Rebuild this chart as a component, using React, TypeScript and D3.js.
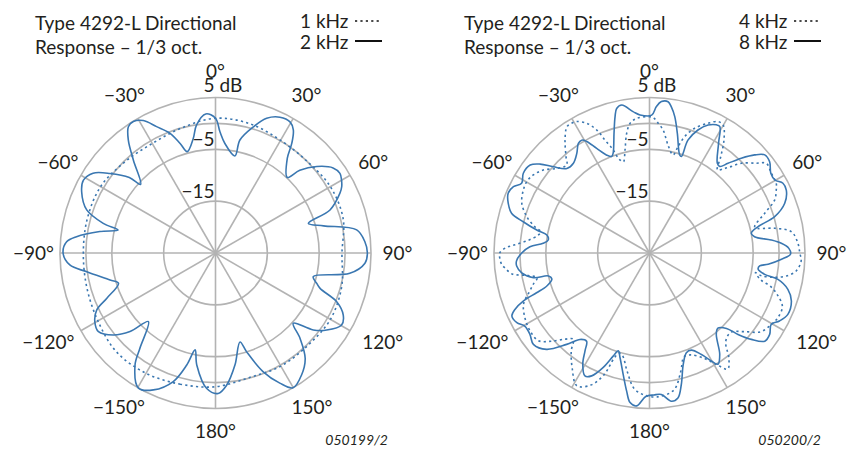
import * as React from "react";
import * as d3 from "d3";

// angle in degrees (clockwise from 0° on top), level in dB

// left plot, 1 kHz (dotted)
const ang1k = [-180, -165, -150, -135, -120, -105, -90, -75, -60, -45, -30, -15, 0, 15, 30, 45, 60, 75, 90, 105, 120, 135, 150, 165];
const db1k = [0.8, 1.2, 1.8, 2.0, 1.2, 0.7, 0.5, 0.6, 0.6, -0.2, -0.6, 0.0, 1.0, 0.8, 0.1, 0.0, 0.6, 0.5, -0.6, 0.2, 0.6, 0.2, 0.2, -0.1];

// left plot, 2 kHz (solid)
const ang2k = [
  -176.3, -170.5, -168.1, -165.6, -161.8, -155.6, -150.3, -144.3, -141.6, -135.6, -132.6, -128.7,
  -123.9, -119.7, -115.6, -112.6, -107.3, -104.4, -98.3, -94.7, -90.1, -85.7, -83.3, -79.5,
  -76.7, -75.2, -71.5, -65.4, -61.1, -56.9, -53.0, -48.8, -47.5, -41.5, -37.7, -34.6,
  -32.0, -28.6, -25.0, -20.8, -17.9, -15.6, -11.0, -8.4, -4.0, 0.0, 2.1, 4.9,
  11.3, 12.2, 16.7, 20.8, 25.4, 29.6, 32.3, 34.8, 37.2, 43.5, 45.5, 49.5,
  54.1, 57.4, 59.9, 62.3, 64.4, 69.4, 72.3, 75.9, 80.7, 85.7, 89.9, 93.9,
  98.6, 103.6, 106.7, 108.7, 111.9, 115.9, 119.7, 124.7, 128.2, 132.1, 135.3, 139.6,
  144.8, 150.1, 153.7, 158.1, 162.5, 164.6, 170.1, 175.2, 178.9,
];
const db2k = [
  1.2, -3.1, -5.9, -2.7, 1.1, 4.0, 5.0, 1.6, -1.5, -6.5, -2.6, 0.3,
  2.2, 1.8, 0.4, -2.3, -5.4, -4.0, 0.1, 3.2, 4.4, 3.8, 2.0, -2.3,
  -5.7, -2.6, 1.2, 3.4, 4.1, 3.2, 0.5, -2.9, -5.4, -1.1, 2.5, 4.6,
  4.9, 4.1, 1.9, -0.3, -2.8, -4.7, -2.5, 0.0, 1.9, 1.0, -1.6, -3.8,
  -5.9, -2.7, 0.4, 2.8, 4.0, 4.1, 3.1, 0.8, -2.1, -4.9, -2.2, 0.7,
  3.0, 3.5, 3.1, 2.5, 1.6, -1.4, -6.2, -3.5, 2.6, 3.9, 4.3, 3.9,
  1.2, -5.6, -4.6, -3.7, 0.2, 2.4, 3.0, 1.1, -1.0, -4.8, -1.8, 1.7,
  3.8, 5.0, 3.0, -0.3, -5.0, -7.2, -3.1, 0.6, 2.1,
];

// right plot, 4 kHz (dotted)
const ang4k = [
  -177.8, -173.5, -169.4, -165.1, -163.1, -161.4, -159.5, -156.0, -151.3, -146.2, -141.4, -138.5,
  -135.5, -131.9, -128.3, -123.0, -117.5, -112.0, -108.0, -105.0, -102.5, -100.5, -98.7, -96.0,
  -94.4, -92.0, -90.0, -88.0, -86.5, -84.0, -81.0, -79.0, -77.0, -73.5, -68.7, -63.5,
  -59.9, -56.1, -52.0, -47.6, -43.3, -40.9, -36.8, -33.2, -31.0, -29.0, -25.8, -23.2,
  -21.5, -19.4, -18.2, -16.0, -13.4, -10.8, -8.5, -5.4, 0.0, 2.0, 4.0, 6.3,
  9.7, 13.5, 15.0, 16.8, 19.9, 24.3, 27.5, 29.9, 33.4, 36.5, 39.3, 41.6,
  43.3, 45.7, 49.9, 52.5, 56.8, 61.2, 63.6, 67.1, 71.0, 76.3, 78.8, 81.5,
  86.3, 90.0, 93.0, 97.0, 99.5, 101.0, 101.5, 100.5, 103.6, 105.5, 108.2, 112.0,
  117.1, 120.7, 125.3, 129.8, 134.3, 139.3, 143.0, 146.0, 148.8, 152.6, 158.0, 161.6,
  165.3, 169.9, 176.9,
];
const db4k = [
  2.4, 1.3, -1.7, -4.6, -4.8, -3.6, 0.1, 2.9, 4.2, 1.8, -0.8, -2.8,
  -1.7, 0.5, 2.3, 2.5, 2.1, 1.2, -0.6, -1.8, -2.8, -1.2, 1.8, 3.0,
  3.6, 3.9, 3.9, 2.8, 1.0, -1.5, -3.2, -3.6, -2.2, -0.3, 1.45, 2.2,
  2.4, 2.0, 1.0, -0.8, -1.7, -0.4, 2.2, 4.1, 4.2, 4.0, 2.8, 0.8,
  -1.6, -3.9, -5.75, -6.7, -4.6, -1.5, 0.3, 1.1, 1.3, 1.0, 0.0, -1.1,
  -3.85, -5.55, -3.8, -1.55, 0.6, 2.45, 3.6, 3.5, 1.1, -1.9, -4.3, -3.2,
  -2.1, -0.2, 1.9, 3.4, 3.1, 2.9, 2.3, 1.2, -1.5, -4.1, -0.4, 2.7,
  3.7, 4.0, 4.3, 3.5, 1.8, -0.5, -3.0, -4.2, -2.9, -0.7, 1.0, 2.65,
  2.7, 2.2, 1.3, -1.3, -3.1, -2.45, 0.46, 2.0, 0.26, -2.1, -3.8, -3.9,
  -1.3, 1.85, 2.8,
];

// right plot, 8 kHz (solid)
const ang8k = [
  -178.5, -175.2, -172.6, -170.6, -167.8, -164.3, -162.3, -160.6, -158.0, -154.8, -152.3, -149.0,
  -146.6, -144.5, -141.2, -137.8, -133.1, -128.2, -124.2, -120.4, -117.7, -114.6, -112.7, -110.8,
  -109.4, -107.8, -105.0, -102.8, -102.0, -98.8, -95.6, -93.4, -90.1, -87.0, -84.8, -82.7,
  -80.1, -78.5, -76.1, -73.9, -70.6, -67.1, -64.0, -61.4, -57.7, -53.6, -50.9, -48.1,
  -44.4, -40.3, -36.1, -33.0, -31.0, -29.4, -26.8, -23.6, -21.4, -20.0, -16.5, -14.2,
  -12.8, -10.6, -6.5, -3.9, 0.9, 2.7, 4.5, 7.0, 8.5, 10.5, 13.1, 17.1,
  18.3, 18.8, 21.5, 24.6, 27.6, 29.1, 32.2, 37.1, 39.1, 41.2, 44.1, 47.0,
  49.6, 52.8, 56.7, 59.8, 62.4, 65.3, 69.8, 73.8, 76.4, 79.0, 81.2, 83.9,
  85.8, 88.1, 90.5, 92.7, 95.4, 96.7, 98.5, 100.5, 101.6, 104.7, 108.7, 113.9,
  117.6, 120.3, 124.1, 127.4, 130.3, 132.6, 134.4, 137.7, 140.6, 145.3, 148.4, 150.2,
  152.9, 156.7, 159.7, 163.2, 166.4, 168.9, 171.6, 175.2, 178.2,
];
const db8k = [
  2.7, 4.6, 4.1, 2.0, -1.0, -4.0, -5.2, -3.9, -1.2, 1.2, 1.8, 0.0,
  -2.4, -4.1, -3.6, -1.2, 2.2, 3.5, 2.9, 2.9, 3.9, 4.2, 3.1, 1.0,
  -1.9, -4.2, -5.5, -5.0, -2.1, -0.05, 0.75, 0.7, -0.3, -1.9, -4.4, -5.3,
  -4.9, -2.8, 0.1, 2.7, 3.9, 4.6, 4.2, 3.1, 3.8, 3.6, 2.2, -0.1,
  -2.2, -2.3, -1.2, 0.2, 0.4, -0.3, -2.4, -4.4, -5.0, -4.5, -0.9, 2.1,
  3.6, 4.05, 2.4, 1.7, 1.6, 3.3, 4.3, 4.4, 3.5, 1.75, -1.3, -5.2,
  -5.4, -2.0, 0.5, 2.15, 2.9, 2.9, 0.0, -3.3, -3.5, -2.0, 0.45, 2.75,
  4.2, 4.1, 3.0, 3.0, 4.05, 4.05, 2.8, 0.15, -3.5, -5.0, -4.5, -1.4,
  0.5, 1.9, 2.2, 0.5, -2.0, -3.6, -3.8, -2.4, 0.3, 2.6, 3.9, 4.2,
  3.3, 2.2, 3.0, 3.0, 0.76, -1.8, -4.2, -5.4, -4.7, -1.2, 0.2, -1.0,
  -3.0, -4.6, -4.5, -2.5, 1.1, 3.5, 3.9, 2.4, 2.4,
];

const spokeAngles = d3.range(0, 360, 30);
const spokeLabels = ["0°", "30°", "60°", "90°", "120°", "150°", "180°", "−150°", "−120°", "−90°", "−60°", "−30°"];
const ringDb = [5, 0, -5, -15];
const ringLabels = ["5 dB", "", "−5", "−15"];

const FONT = "Lato, 'Liberation Sans', sans-serif";
const BLUE = "#3a77b1";
const GRID = "#b3b3b3";
const INK = "#231f20";
const R = 155.5;

const rScale = d3.scaleLinear().domain([-25, 5]).range([0, R]);
const rad = (deg: number) => (deg * Math.PI) / 180;

const curvePath = (ang: number[], db: number[]) =>
  d3
    .lineRadial<number>()
    .angle((i) => rad(ang[i]))
    .radius((i) => rScale(db[i]))
    .curve(d3.curveCatmullRomClosed.alpha(0.5))(d3.range(ang.length)) || "";

type Series = { label: string; ang: number[]; db: number[]; dash?: string };

const Polar = (props: {
  cx: number;
  cy: number;
  titleX: number;
  legendX: number;
  figX: number;
  figId: string;
  series: Series[];
}) => {
  const { cx, cy, titleX, legendX, figX, figId, series } = props;

  const spokeLabel = (a: number, i: number) => {
    const s = Math.sin(rad(a));
    const c = Math.cos(rad(a));
    const rx = c > 0.1 ? 182 : c > -0.1 ? 182 : 193;
    const ry = c >= 0 ? 182 : 178;
    return (
      <text key={"l" + a} x={cx + rx * s} y={cy - ry * c + 7} textAnchor="middle">
        {spokeLabels[i]}
      </text>
    );
  };

  return (
    <g fontFamily={FONT} fontSize={19} fill={INK}>
      <text x={titleX} y={29.5}>Type 4292-L Directional</text>
      <text x={titleX} y={54}>Response – 1/3 oct.</text>

      {series.map((s, i) => (
        <g key={s.label}>
          <text x={legendX} y={28 + i * 20.5}>{s.label}</text>
          <line
            x1={legendX + 55}
            x2={legendX + 82}
            y1={21 + i * 20}
            y2={21 + i * 20}
            stroke="#111"
            strokeWidth={s.dash ? 1.5 : 2}
            strokeDasharray={s.dash}
          />
        </g>
      ))}

      <g transform={`translate(${cx},${cy})`}>
        {ringDb.map((d) => (
          <circle key={d} r={rScale(d)} fill="none" stroke={GRID} strokeWidth={1.6} />
        ))}
        {spokeAngles.map((a) => (
          <line
            key={a}
            x1={0}
            y1={0}
            x2={R * Math.sin(rad(a))}
            y2={-R * Math.cos(rad(a))}
            stroke={GRID}
            strokeWidth={1.6}
          />
        ))}
        {series.map((s) => (
          <path
            key={s.label}
            d={curvePath(s.ang, s.db)}
            fill="none"
            stroke={BLUE}
            strokeWidth={1.6}
            strokeDasharray={s.dash}
          />
        ))}
        <text x={-12} y={-rScale(5) - 6}>{ringLabels[0]}</text>
        {ringDb.slice(2).map((d, i) => (
          <text key={d} x={-1} y={-rScale(d) - 3} textAnchor="end">
            {ringLabels[i + 2]}
          </text>
        ))}
      </g>

      {spokeAngles.map(spokeLabel)}

      <text x={figX} y={445} textAnchor="end" fontSize={14} fontStyle="italic">
        {figId}
      </text>
    </g>
  );
};

export default function App() {
  return (
    <svg width={847} height={450} style={{ position: "absolute", left: 0, top: 0, background: "#fff" }}>
      <rect width={847} height={450} fill="#fff" />
      <Polar
        cx={215.5}
        cy={253}
        titleX={35}
        legendX={300}
        figX={388}
        figId="050199/2"
        series={[
          { label: "1 kHz", ang: ang1k, db: db1k, dash: "2.2,3.2" },
          { label: "2 kHz", ang: ang2k, db: db2k },
        ]}
      />
      <Polar
        cx={649.5}
        cy={253}
        titleX={464}
        legendX={739}
        figX={821}
        figId="050200/2"
        series={[
          { label: "4 kHz", ang: ang4k, db: db4k, dash: "2.2,3.2" },
          { label: "8 kHz", ang: ang8k, db: db8k },
        ]}
      />
    </svg>
  );
}
